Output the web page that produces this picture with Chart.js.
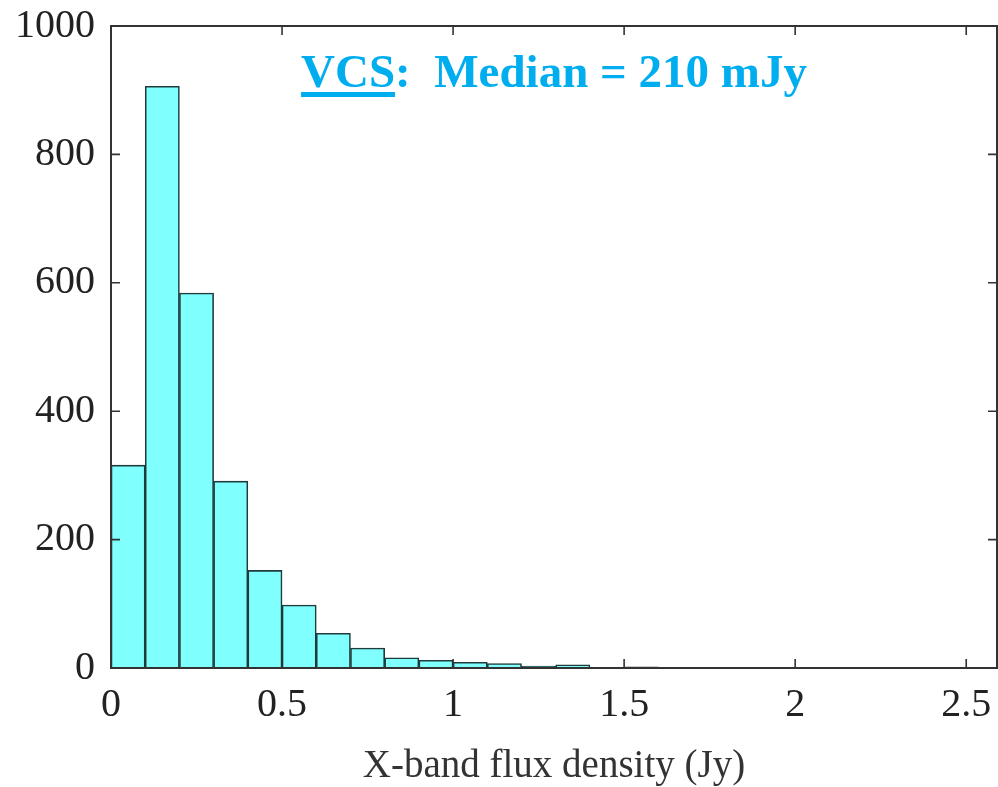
<!DOCTYPE html>
<html>
<head>
<meta charset="utf-8">
<script src="https://cdn.jsdelivr.net/npm/chart.js@4.4.1/dist/chart.umd.min.js"></script>
<style>
  html,body{margin:0;padding:0;background:#fff;}
  #wrap{width:998px;height:787px;position:relative;}
</style>
</head>
<body>
<div id="wrap"><canvas id="c" width="998" height="787"></canvas></div>
<script>
// Histogram bins (Jy): left edges, width 0.1
const binStarts = [0.0,0.1,0.2,0.3,0.4,0.5,0.6,0.7,0.8,0.9,1.0,1.1,1.2,1.3,1.4,1.5,1.6,1.7,1.8,1.9,2.0,2.1,2.2,2.3,2.4];
const counts    = [316,906,584,291,152,98,54,31,16,12,9,7,3,5,1,2,0,0,1,0,0,0,0,0,1];
const binWidth = 0.1;
const xTickValues = [0,0.5,1,1.5,2,2.5];
const xTickLabels = ["0","0.5","1","1.5","2","2.5"];
const yTickValues = [0,200,400,600,800,1000];
const yTickLabels = ["0","200","400","600","800","1000"];
const titleMain = "VCS";
const titleRest = ":  Median = 210 mJy";
const xAxisTitle = "X-band flux density (Jy)";

const points = binStarts.map((s,i)=>({x: s + binWidth/2, y: counts[i]}));

const framePlugin = {
  id:'frame',
  afterDatasetsDraw(chart){
    const {ctx, chartArea:a, scales:{x,y}} = chart;
    ctx.save();
    ctx.strokeStyle = '#333';
    ctx.lineWidth = 2;
    ctx.strokeRect(a.left, a.top, a.right-a.left, a.bottom-a.top);
    ctx.lineWidth = 1.6;
    const L = 9;
    ctx.beginPath();
    x.ticks.forEach(t=>{
      const p = x.getPixelForValue(t.value);
      ctx.moveTo(p, a.bottom); ctx.lineTo(p, a.bottom-L);
      ctx.moveTo(p, a.top); ctx.lineTo(p, a.top+L);
    });
    y.ticks.forEach(t=>{
      const p = y.getPixelForValue(t.value);
      ctx.moveTo(a.left, p); ctx.lineTo(a.left+L, p);
      ctx.moveTo(a.right, p); ctx.lineTo(a.right-L, p);
    });
    ctx.stroke();
    ctx.restore();
  }
};

const titlePlugin = {
  id:'vcsTitle',
  afterDraw(chart){
    const {ctx, chartArea:a} = chart;
    ctx.save();
    ctx.font = 'bold 47px "Liberation Serif", "Times New Roman", serif';
    ctx.fillStyle = '#00aeef';
    ctx.textBaseline = 'alphabetic';
    ctx.textAlign = 'left';
    const full = titleMain + titleRest;
    const w = ctx.measureText(full).width;
    const x0 = (a.left + a.right) / 2 - w/2;
    const base = a.top + 61;
    ctx.fillText(full, x0, base);
    const wm = ctx.measureText(titleMain).width;
    ctx.fillRect(x0, base + 5, wm, 5);
    ctx.restore();
  }
};

new Chart(document.getElementById('c'), {
  type:'bar',
  data:{
    datasets:[{
      data: points,
      backgroundColor:'#80ffff',
      borderColor:'#1e3a3a',
      borderWidth:1.6,
      barPercentage:1.0,
      categoryPercentage:1.0
    }]
  },
  options:{
    responsive:false,
    animation:false,
    devicePixelRatio:1,
    layout:{padding:{left:0,right:1,top:26,bottom:0}},
    plugins:{legend:{display:false}, tooltip:{enabled:false}},
    scales:{
      x:{
        type:'linear',
        min:0, max:2.59,
        offset:false,
        afterBuildTicks:(s)=>{ s.ticks = xTickValues.map(v=>({value:v})); },
        afterFit:(s)=>{ s.height = 119; s.paddingLeft = 0; s.paddingRight = 0; },
        ticks:{
          callback:(v)=>{ const i = xTickValues.indexOf(v); return i>=0 ? xTickLabels[i] : ''; },
          font:{family:'"Liberation Serif", "Times New Roman", serif', size:40},
          color:'#222',
          padding:13,
          maxRotation:0, autoSkip:false
        },
        grid:{display:false, drawTicks:false},
        border:{display:false},
        title:{
          display:true, text:xAxisTitle,
          font:{family:'"Liberation Serif", "Times New Roman", serif', size:39, lineHeight:1.0},
          color:'#333',
          padding:{top:0,bottom:1}
        }
      },
      y:{
        min:0, max:1000,
        afterBuildTicks:(s)=>{ s.ticks = yTickValues.map(v=>({value:v})); },
        afterFit:(s)=>{ s.width = 111; s.paddingTop = 0; s.paddingBottom = 0; },
        ticks:{
          callback:(v)=>{ const i = yTickValues.indexOf(v); return i>=0 ? yTickLabels[i] : ''; },
          font:{family:'"Liberation Serif", "Times New Roman", serif', size:40},
          color:'#222',
          padding:16
        },
        grid:{display:false, drawTicks:false},
        border:{display:false}
      }
    }
  },
  plugins:[framePlugin, titlePlugin]
});
</script>
</body>
</html>
